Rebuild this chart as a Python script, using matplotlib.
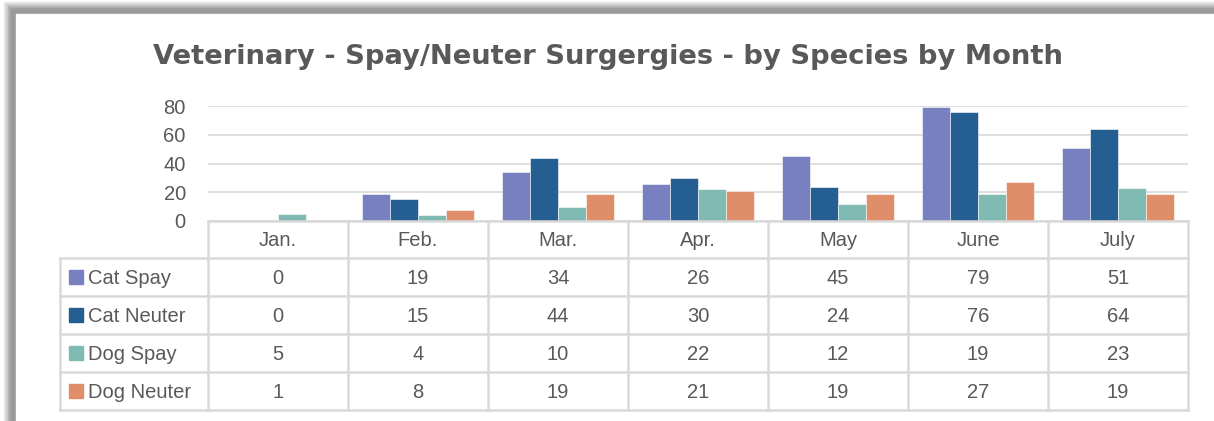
import matplotlib
matplotlib.use('Agg')
import matplotlib.pyplot as plt
from matplotlib.patches import Rectangle
import numpy as np

months = ['Jan.', 'Feb.', 'Mar.', 'Apr.', 'May', 'June', 'July']
series = ['Cat Spay', 'Cat Neuter', 'Dog Spay', 'Dog Neuter']
cat_spay = [0, 19, 34, 26, 45, 79, 51]
cat_neuter = [0, 15, 44, 30, 24, 76, 64]
dog_spay = [5, 4, 10, 22, 12, 19, 23]
dog_neuter = [1, 8, 19, 21, 19, 27, 19]
yticks = [0, 20, 40, 60, 80]

colors = ['#7880C0', '#255E91', '#7FBAB3', '#E08E69']
text_col = '#595959'
line_col = '#D9D9D9'
W, H = 1214, 421
FS = 14.5


def main():
  fig = plt.figure(figsize=(W / 100, H / 100), dpi=100)

  # frame / shadow in pixel coordinates
  bg = fig.add_axes([0, 0, 1, 1])
  bg.set_xlim(0, W)
  bg.set_ylim(H, 0)
  bg.axis('off')
  for i, g in enumerate(['#E6E6E6', '#CFCFCF', '#B5B5B5', '#A0A0A0', '#9A9A9A']):
    bg.add_patch(Rectangle((4 + i * 2, 2 + i * 2), W, H, color=g, zorder=0))
  bg.add_patch(Rectangle((16, 14), W, H, color='white', zorder=1))

  # bar chart
  x0, x1, ytop, ybot = 208, 1188, 106, 221
  ax = fig.add_axes([x0 / W, (H - ybot) / H, (x1 - x0) / W, (ybot - ytop) / H])
  data = [cat_spay, cat_neuter, dog_spay, dog_neuter]
  xs = np.arange(len(months))
  for k, vals in enumerate(data):
    ax.bar(xs - 0.3 + 0.2 * k, vals, width=0.2, color=colors[k],
           edgecolor='white', linewidth=0.4, zorder=3)
  ax.set_xlim(-0.5, len(months) - 0.5)
  ax.set_ylim(0, 80)
  ax.set_yticks(yticks)
  ax.set_yticklabels([str(v) for v in yticks], fontsize=FS, color=text_col,
                     family='Liberation Sans')
  ax.tick_params(axis='y', length=0, pad=16)
  ax.set_xticks([])
  ax.grid(axis='y', color=line_col, linewidth=1.2, zorder=0)
  for s in ax.spines.values():
    s.set_visible(False)
  ax.patch.set_alpha(0)

  fig.text(608 / W, 1 - 57 / H, 'Veterinary - Spay/Neuter Surgergies - by Species by Month',
           ha='center', va='center', fontsize=19.7, fontweight='bold', color=text_col,
           family='DejaVu Sans')

  # data table
  tx = fig.add_axes([0, 0, 1, 1], zorder=5)
  tx.set_xlim(0, W)
  tx.set_ylim(H, 0)
  tx.axis('off')
  col_w = (x1 - x0) / len(months)
  rows = [221, 258, 296, 334, 372, 410]
  lx = 60
  lw = 1.8
  tx.plot([x0, x1], [rows[0], rows[0]], color=line_col, lw=lw)
  for y in rows[1:]:
    tx.plot([lx, x1], [y, y], color=line_col, lw=lw)
  for i in range(len(months) + 1):
    xv = x0 + i * col_w
    tx.plot([xv, xv], [rows[0], rows[-1]], color=line_col, lw=lw)
  tx.plot([lx, lx], [rows[1], rows[-1]], color=line_col, lw=lw)

  for i, m in enumerate(months):
    tx.text(x0 + (i + 0.5) * col_w, (rows[0] + rows[1]) / 2 + 1, m, ha='center', va='center',
            fontsize=FS, color=text_col, family='Liberation Sans')
  for k, name in enumerate(series):
    yc = (rows[k + 1] + rows[k + 2]) / 2 + 1
    tx.add_patch(Rectangle((69, yc - 8), 14, 14, color=colors[k]))
    tx.text(88, yc, name, ha='left', va='center', fontsize=FS, color=text_col,
            family='Liberation Sans')
    for i, v in enumerate(data[k]):
      tx.text(x0 + (i + 0.5) * col_w, yc, str(v), ha='center', va='center',
              fontsize=FS, color=text_col, family='Liberation Sans')

  fig.savefig('out.png', dpi=100)


if __name__ == '__main__':
  main()
